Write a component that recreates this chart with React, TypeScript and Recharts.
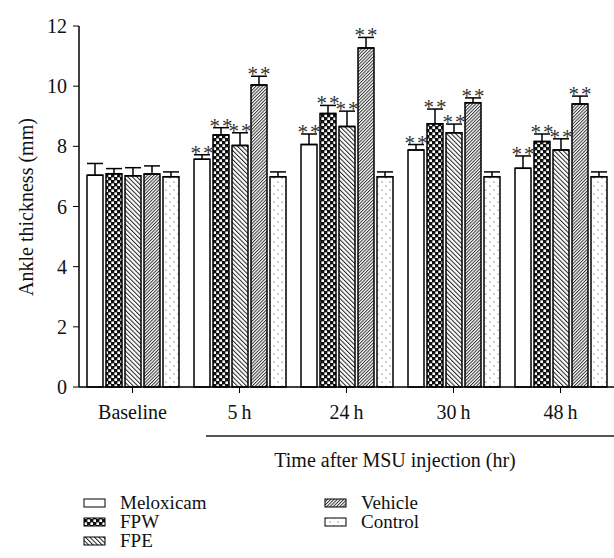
import { BarChart, Bar, XAxis, YAxis, ErrorBar, LabelList } from 'recharts';

const groups = ['Baseline', '5\u2009h', '24\u2009h', '30\u2009h', '48\u2009h'];
const yTicks = [0, 2, 4, 6, 8, 10, 12];

const meloxicam = [7.04, 7.57, 8.06, 7.88, 7.27];
const meloxicamErr = [0.39, 0.15, 0.35, 0.18, 0.41];
const fpw = [7.09, 8.38, 9.09, 8.75, 8.16];
const fpwErr = [0.17, 0.24, 0.27, 0.49, 0.25];
const fpe = [7.02, 8.03, 8.66, 8.45, 7.88];
const fpeErr = [0.27, 0.42, 0.51, 0.29, 0.37];
const vehicle = [7.08, 10.04, 11.27, 9.45, 9.41];
const vehicleErr = [0.27, 0.29, 0.35, 0.16, 0.26];
const control = [6.99, 6.99, 6.99, 6.99, 6.99];
const controlErr = [0.16, 0.16, 0.16, 0.16, 0.16];

// significance marks above each bar
const meloxicamSig = ['', '**', '**', '**', '**'];
const fpwSig = ['', '**', '**', '**', '**'];
const fpeSig = ['', '**', '**', '**', '**'];
const vehicleSig = ['', '**', '**', '**', '**'];
const controlSig = ['', '', '', '', ''];

const series = [
  { key: 'meloxicam', name: 'Meloxicam', values: meloxicam, err: meloxicamErr, sig: meloxicamSig, fill: 'plain' },
  { key: 'fpw', name: 'FPW', values: fpw, err: fpwErr, sig: fpwSig, fill: 'checker' },
  { key: 'fpe', name: 'FPE', values: fpe, err: fpeErr, sig: fpeSig, fill: 'back' },
  { key: 'vehicle', name: 'Vehicle', values: vehicle, err: vehicleErr, sig: vehicleSig, fill: 'fwd' },
  { key: 'control', name: 'Control', values: control, err: controlErr, sig: controlSig, fill: 'dots' },
];

const data = groups.map((g, i) => {
  const row: any = { group: g };
  series.forEach((s) => {
    row[s.key] = s.values[i];
    row[s.key + 'Err'] = [0, s.err[i]];
    row[s.key + 'Sig'] = s.sig[i];
  });
  return row;
});

const FONT = '"Liberation Serif", "Times New Roman", serif';

function Patterns({ p }: { p: string }) {
  return (
    <defs>
      <pattern id={p + 'plain'} width="4" height="4" patternUnits="userSpaceOnUse">
        <rect width="4" height="4" fill="#fff" />
      </pattern>
      <pattern id={p + 'checker'} width="6" height="6" patternUnits="userSpaceOnUse">
        <rect width="6" height="6" fill="#111" />
        <rect x="0.4" y="0.4" width="2.6" height="2.6" fill="#fff" />
        <rect x="3.4" y="3.4" width="2.6" height="2.6" fill="#fff" />
      </pattern>
      <pattern id={p + 'back'} width="3.2" height="10" patternUnits="userSpaceOnUse" patternTransform="rotate(-45)">
        <rect width="3.2" height="10" fill="#fff" />
        <rect width="1" height="10" fill="#222" />
      </pattern>
      <pattern id={p + 'fwd'} width="2.3" height="10" patternUnits="userSpaceOnUse" patternTransform="rotate(45)">
        <rect width="2.3" height="10" fill="#fff" />
        <rect width="1" height="10" fill="#333" />
      </pattern>
      <pattern id={p + 'dots'} width="8" height="8" patternUnits="userSpaceOnUse">
        <rect width="8" height="8" fill="#fff" />
        <circle cx="2" cy="2" r="0.6" fill="#333" />
        <circle cx="6" cy="6" r="0.6" fill="#333" />
      </pattern>
    </defs>
  );
}

function stars(idx: number) {
  const s = series[idx];
  return (props: any) => {
    const { x, y, width, height, value, index } = props;
    if (!value) return null;
    const v = s.values[index];
    const capY = y - (s.err[index] * height) / v;
    return (
      <text
        x={x + width / 2 + 1}
        y={capY + 5}
        textAnchor="middle"
        fontSize={21}
        letterSpacing={2}
        fontFamily={FONT}
        fill="#333"
      >
        {value}
      </text>
    );
  };
}

export default function App() {
  return (
    <div style={{ position: 'absolute', left: 0, top: 0, width: 614, height: 558, background: '#fff' }}>
      <BarChart
        width={614}
        height={558}
        data={data}
        margin={{ top: 26, right: 0, bottom: 141, left: 0 }}
        barSize={16}
        barGap={3}
      >
        <Patterns p="c-" />
        <XAxis
          dataKey="group"
          height={30}
          axisLine={{ stroke: '#000', strokeWidth: 1.5 }}
          tickLine={{ stroke: '#000', strokeWidth: 1 }}
          tickSize={6}
          tickMargin={12}
          tick={{ fontSize: 20, fill: '#111', fontFamily: FONT }}
        />
        <YAxis
          width={79}
          domain={[0, 12]}
          ticks={yTicks}
          interval={0}
          axisLine={{ stroke: '#000', strokeWidth: 1.5 }}
          tickLine={{ stroke: '#000', strokeWidth: 1 }}
          tickSize={6}
          tickMargin={6}
          tick={{ fontSize: 20, fill: '#111', fontFamily: FONT }}
        />
        {series.map((s, i) => (
          <Bar
            key={s.key}
            dataKey={s.key}
            name={s.name}
            fill={`url(#c-${s.fill})`}
            stroke="#000"
            strokeWidth={1.5}
            isAnimationActive={false}
          >
            <ErrorBar dataKey={s.key + 'Err'} width={8} stroke="#000" strokeWidth={1.5} direction="y" />
            <LabelList dataKey={s.key + 'Sig'} content={stars(i)} />
          </Bar>
        ))}
      </BarChart>
      <svg
        width={614}
        height={558}
        style={{ position: 'absolute', left: 0, top: 0, pointerEvents: 'none' }}
      >
        <Patterns p="l-" />
        <text
          x={33}
          y={207}
          transform="rotate(-90 33 207)"
          textAnchor="middle"
          fontSize={20}
          fontFamily={FONT}
          fill="#111"
        >
          Ankle thickness (mm)
        </text>
        <line x1={206} x2={614} y1={436} y2={436} stroke="#555" strokeWidth={2} />
        <text x={395} y={467} textAnchor="middle" fontSize={20} fontFamily={FONT} fill="#111">
          Time after MSU injection (hr)
        </text>
        {series.map((s, i) => {
          const col = i < 3 ? 0 : 1;
          const row = i < 3 ? i : i - 3;
          const sx = col === 0 ? 84 : 325;
          const cy = 503 + row * 19;
          return (
            <g key={s.key}>
              <rect x={sx} y={cy - 4} width={21} height={8} fill={`url(#l-${s.fill})`} stroke="#000" strokeWidth={1} />
              <text x={sx + 36} y={cy + 6} fontSize={19} fontFamily={FONT} fill="#111">
                {s.name}
              </text>
            </g>
          );
        })}
      </svg>
    </div>
  );
}
